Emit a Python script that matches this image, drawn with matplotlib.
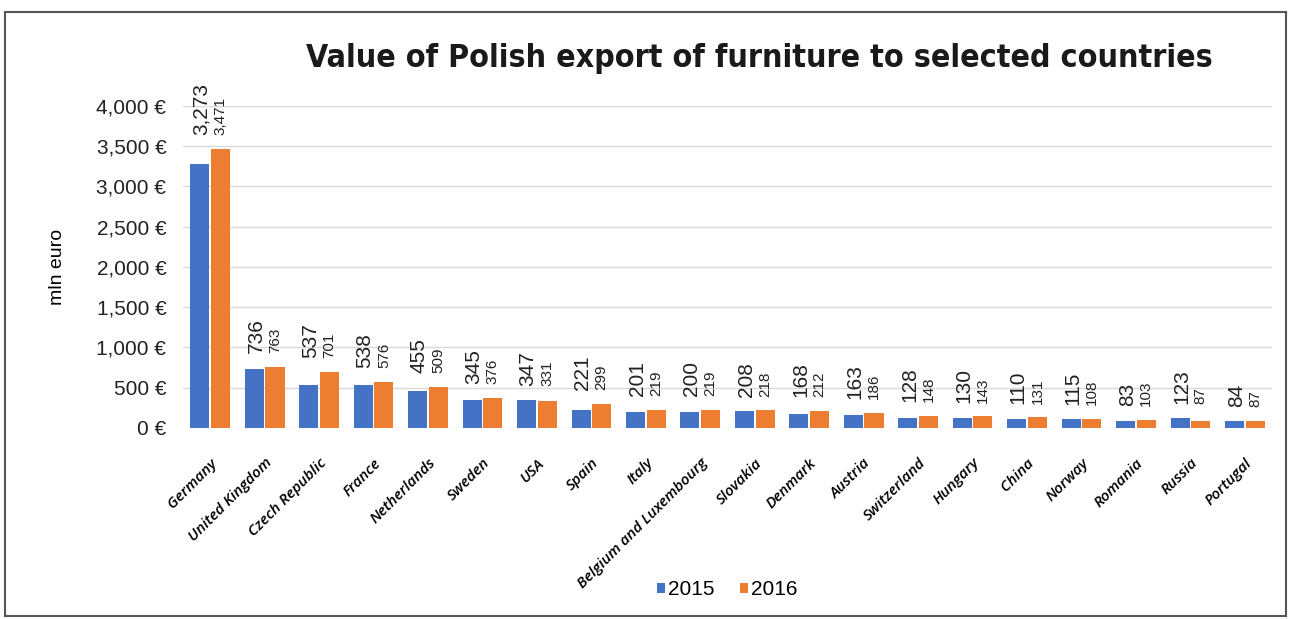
import numpy as np
import matplotlib
matplotlib.use("Agg")
import matplotlib.pyplot as plt
from matplotlib.patches import Rectangle
from matplotlib.ticker import FuncFormatter

countries = ["Germany", "United Kingdom", "Czech Republic", "France", "Netherlands",
             "Sweden", "USA", "Spain", "Italy", "Belgium and Luxembourg", "Slovakia",
             "Denmark", "Austria", "Switzerland", "Hungary", "China", "Norway",
             "Romania", "Russia", "Portugal"]
values_2015 = [3273, 736, 537, 538, 455, 345, 347, 221, 201, 200, 208, 168, 163,
               128, 130, 110, 115, 83, 123, 84]
values_2016 = [3471, 763, 701, 576, 509, 376, 331, 299, 219, 219, 218, 212, 186,
               148, 143, 131, 108, 103, 87, 87]
series_names = ["2015", "2016"]

blue = "#4472C4"
orange = "#ED7D31"
arial = ["Liberation Sans", "DejaVu Sans"]

fig = plt.figure(figsize=(12.92, 6.19), dpi=100)
ax = fig.add_axes([0.1416, 0.3086, 0.843, 0.5202])

x = np.arange(len(countries))
w = 0.35
off = 0.19
ax.bar(x - off, values_2015, w, color=blue, label=series_names[0])
ax.bar(x + off, values_2016, w, color=orange, label=series_names[1])

# value labels, both sit above the taller bar of the group
for i, (a, b) in enumerate(zip(values_2015, values_2016)):
    top = max(a, b)
    ax.annotate(f"{a:,}", (x[i] - off + 0.03, top), xytext=(0, 10), textcoords="offset points",
                rotation=90, ha="center", va="bottom", fontsize=15, color="#222222",
                family=arial)
    ax.annotate(f"{b:,}", (x[i] + off, top), xytext=(0, 10), textcoords="offset points",
                rotation=90, ha="center", va="bottom", fontsize=11, color="#222222",
                family=arial)

ax.set_ylim(0, 4000)
ax.set_xlim(-0.5, len(countries) - 0.5)
ax.set_yticks(np.arange(0, 4001, 500))
ax.yaxis.set_major_formatter(FuncFormatter(lambda v, p: f"{int(v):,} €"))
ax.tick_params(axis="y", labelsize=15, length=0, pad=12, labelcolor="#222222")
for t in ax.get_yticklabels():
    t.set_family(arial)
ax.grid(axis="y", color="#d9d9d9", linewidth=1)
ax.set_axisbelow(True)
for s in ax.spines.values():
    s.set_visible(False)

ax.set_xticks(x)
ax.set_xticklabels(countries, rotation=45, ha="right", rotation_mode="anchor",
                   fontsize=11, fontstyle="italic", fontweight="semibold",
                   family=["Open Sans", "DejaVu Sans"])
ax.tick_params(axis="x", length=0, pad=20)

ax.set_ylabel("mln euro", fontsize=14, labelpad=22, family=arial)

fig.text(0.588, 0.906, "Value of Polish export of furniture to selected countries",
         ha="center", va="center", fontsize=23, fontweight="bold", fontstretch="condensed",
         family=["DejaVu Sans"], color="#1a1a1a")

leg = fig.legend(loc="center", bbox_to_anchor=(0.563, 0.047), ncol=2, frameon=False,
                 handlelength=0.4, handleheight=0.4, handletextpad=0.15,
                 columnspacing=1.2, prop={"family": arial, "size": 15})

fig.patches.append(Rectangle((0.004, 0.005), 0.991, 0.975, transform=fig.transFigure,
                             fill=False, edgecolor="#555555", linewidth=1.5))

fig.savefig("out.png", dpi=100)
